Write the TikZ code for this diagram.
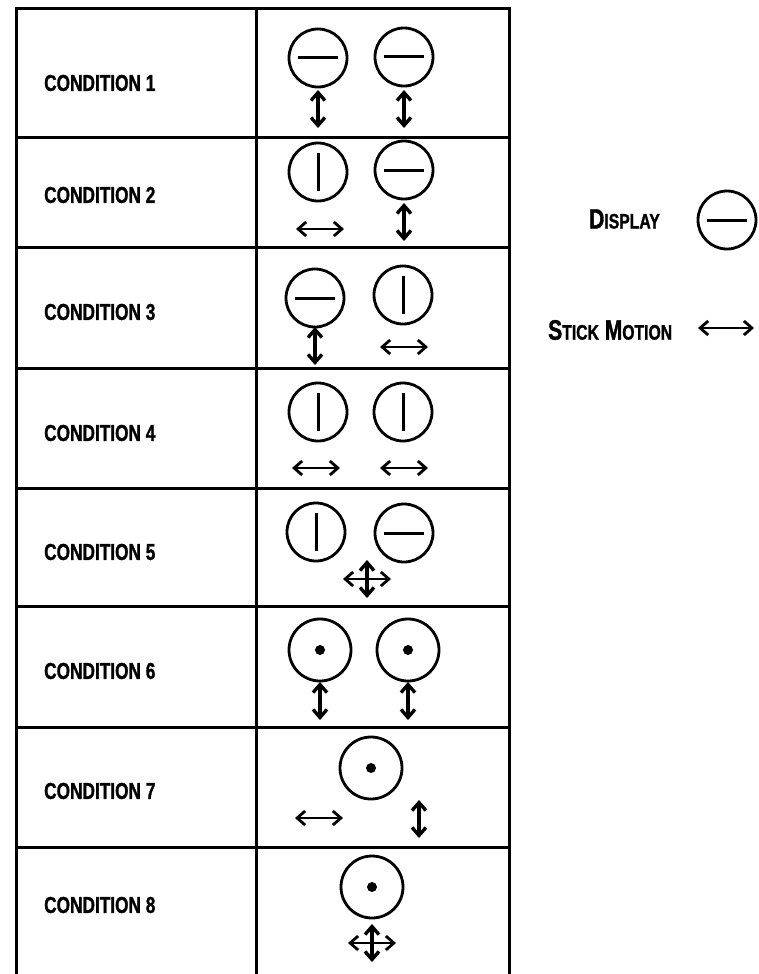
\documentclass[tikz,border=0pt]{standalone}
\usepackage{fontspec}
\setmainfont{Liberation Sans}
\newfontfamily\condfont[FakeStretch=0.75,BoldFeatures={FakeBold=1.2}]{Liberation Sans}
\usetikzlibrary{arrows.meta}

% display with horizontal / vertical bar, display with dot
\newcommand{\dispH}[2]{%
  \draw[disp] (#1,#2) circle (29);
  \draw[bar] (#1-20,#2) -- (#1+20,#2);}
\newcommand{\dispV}[2]{%
  \draw[disp] (#1,#2) circle (29);
  \draw[bar] (#1,#2-19) -- (#1,#2+19);}
\newcommand{\dispDot}[2]{%
  \draw[disp] (#1,#2) circle (31);
  \fill (#1,#2) circle (5);}
% stick motions
\newcommand{\hmove}[2]{\draw[move] (#1-24,#2) -- (#1+24,#2);}
\newcommand{\vmove}[2]{\draw[move,line width=3.4pt] (#1,#2-19) -- (#1,#2+19);}
\newcommand{\allmove}[2]{\hmove{#1}{#2}\vmove{#1}{#2}}

\begin{document}
\begin{tikzpicture}[x=1pt,y=-1pt,
    frame/.style={line width=3pt},
    disp/.style={line width=2.8pt},
    bar/.style={line width=3pt},
    move/.style={line width=2.8pt,{Straight Barb[length=8pt,width=14pt]}-{Straight Barb[length=8pt,width=14pt]}},
    cond/.style={anchor=west,inner sep=0pt,font=\condfont\bfseries\fontsize{23}{23}\selectfont},
    legend/.style={anchor=west,inner sep=0pt,font=\condfont\bfseries\fontsize{28}{28}\selectfont}]
  \useasboundingbox (0,0) rectangle (759,974);

  % table
  \draw[frame] (16,974) -- (16,9) -- (509,9) -- (509,974);
  \draw[frame] (256,9) -- (256,974);
  \foreach \y in {137,247,368,488,606,727,847}
    \draw[frame] (16,\y) -- (509,\y);

  % condition labels
  \foreach \n/\y in {1/83,2/195,3/312,4/433,5/552,6/671,7/791,8/905}
    \node[cond] (cond\n) at (44,\y) {CONDITION \n};

  % condition 1
  \dispH{318}{58} \dispH{404}{57}
  \vmove{318}{109} \vmove{404}{109}
  % condition 2
  \dispV{318}{172} \dispH{404}{170}
  \hmove{320}{229} \vmove{404}{222}
  % condition 3
  \dispH{315}{298} \dispV{403}{295}
  \vmove{315}{346} \hmove{404}{347}
  % condition 4
  \dispV{318}{412} \dispV{403}{412}
  \hmove{316}{468} \hmove{404}{468}
  % condition 5
  \dispV{316}{532} \dispH{404}{533}
  \allmove{367}{579}
  % condition 6
  \dispDot{320}{650} \dispDot{408}{650}
  \vmove{320}{701} \vmove{408}{701}
  % condition 7
  \dispDot{371}{768}
  \hmove{319}{818} \vmove{419}{819}
  % condition 8
  \dispDot{372}{887}
  \allmove{372}{943}

  % legend
  \node[legend] (displbl) at (589,219) {D{\fontsize{21}{21}\selectfont ISPLAY}};
  \dispH{727}{220}
  \node[legend] (sticklbl) at (548,330) {S{\fontsize{21}{21}\selectfont TICK} M{\fontsize{21}{21}\selectfont OTION}};
  \draw[move] (698,328) -- (754,328);
\end{tikzpicture}
\end{document}
